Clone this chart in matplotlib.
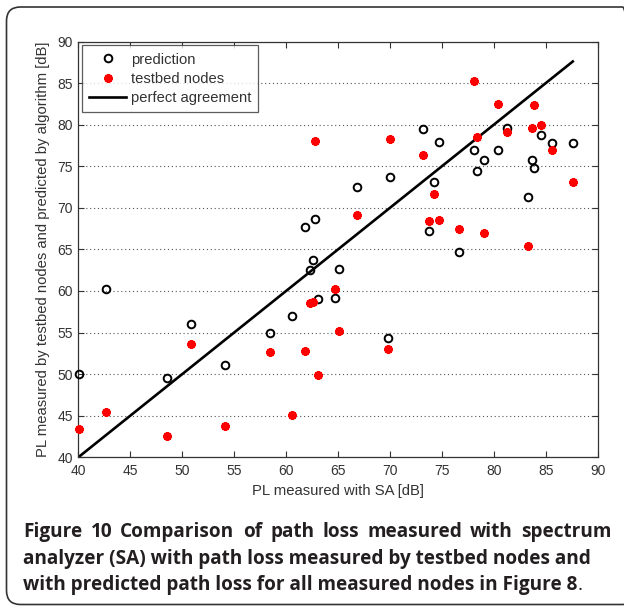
import numpy as np
import matplotlib
matplotlib.use("Agg")
import matplotlib.pyplot as plt
from matplotlib.patches import FancyBboxPatch
from matplotlib.transforms import IdentityTransform

# PL measured with spectrum analyzer [dB], one entry per node
pl_sa = [40.1, 42.7, 48.5, 50.8, 54.1, 58.5, 60.6, 61.8, 62.35, 62.6, 62.8,
         63.1, 64.7, 65.1, 66.8, 69.8, 70.0, 73.2, 73.8, 74.2, 74.7, 76.6,
         78.05, 78.4, 79.1, 80.4, 81.3, 83.3, 83.65, 83.85, 84.55, 85.6, 87.6]
# predicted by algorithm [dB]
pl_pred = [50.05, 60.2, 49.5, 56.05, 51.05, 54.9, 56.95, 67.7, 62.5, 63.75, 68.7,
           59.0, 59.2, 62.6, 72.5, 54.35, 73.7, 79.5, 67.2, 73.05, 77.9, 64.7,
           77.0, 74.4, 75.75, 76.9, 79.65, 71.25, 75.75, 74.75, 78.7, 77.8, 77.8]
# measured by testbed nodes [dB]
pl_testbed = [43.4, 45.5, 42.5, 53.65, 43.75, 52.7, 45.05, 52.8, 58.5, 58.65, 78.05,
              49.95, 60.2, 55.2, 69.1, 53.0, 78.3, 76.35, 68.4, 71.7, 68.5, 67.4,
              85.25, 78.5, 67.0, 82.5, 79.1, 65.4, 79.6, 82.4, 80.0, 76.9, 73.1]

xticks = [40, 45, 50, 55, 60, 65, 70, 75, 80, 85, 90]
yticks = [40, 45, 50, 55, 60, 65, 70, 75, 80, 85, 90]

caption = ["Figure 10 Comparison of path loss measured with spectrum",
           "analyzer (SA) with path loss measured by testbed nodes and",
           "with predicted path loss for all measured nodes in Figure 8"]

plt.rcParams['font.family'] = ['Liberation Sans', 'DejaVu Sans']

fig = plt.figure(figsize=(6.24, 6.06), dpi=100)
ax = fig.add_axes([0.1255, 0.2454, 0.8324, 0.6861])

ax.plot(pl_sa, pl_pred, linestyle='none', marker='o', ms=5.5, mfc='none',
        mec='black', mew=1.4, label='prediction', zorder=3, clip_on=False)
ax.plot(pl_sa, pl_testbed, linestyle='none', marker=(8, 2, 0), ms=6.3,
        mec='red', mfc='red', mew=1.7, label='testbed nodes', zorder=3, clip_on=False)
lo, hi = min(pl_sa), max(pl_sa)
ax.plot([lo, hi], [lo, hi], color='black', lw=1.9, label='perfect agreement', zorder=2)

ax.set_xlim(40, 90)
ax.set_ylim(40, 90)
ax.set_xticks(xticks)
ax.set_yticks(yticks)
ax.tick_params(direction='in', length=4, width=0.8, labelsize=10,
               labelcolor='#333333', color='#333333',
               top=True, right=True, pad=4)
ax.tick_params(axis='x', pad=5)
ax.yaxis.grid(True, linestyle=(0, (1, 2.5)), color='#555555', lw=0.8)
for sp in ax.spines.values():
    sp.set_color('#333333')
    sp.set_linewidth(0.9)

ax.set_xlabel('PL measured with SA [dB]', fontsize=10.7, color='#333333', labelpad=4)
ax.set_ylabel('PL measured by testbed nodes and predicted by algorithm [dB]',
              fontsize=10.7, color='#333333', labelpad=5)

leg = ax.legend(loc='upper left', fontsize=10.6, frameon=True, fancybox=False,
                edgecolor='#333333', borderpad=0.5, labelspacing=0.35,
                handlelength=2.5, handletextpad=0.3, borderaxespad=0.25)
leg.get_frame().set_linewidth(0.9)
leg.set_zorder(5)
for t in leg.get_texts():
    t.set_color('#333333')

# caption, first line spread to the full width like the source
cap_kw = dict(fontsize=13.7, fontweight='bold', family=['Open Sans', 'DejaVu Sans'],
              color='#231f20', va='center', ha='left')
ys = [532, 559, 585]
renderer = fig.canvas.get_renderer()
words = caption[0].split()
wtexts = [fig.text(0, 1 - ys[0] / 606, w, **cap_kw) for w in words]
widths = [t.get_window_extent(renderer).width for t in wtexts]
gap = (611.5 - 23 - sum(widths)) / (len(words) - 1)
xpos = 23
for t, w in zip(wtexts, widths):
    t.set_x(xpos / 624)
    xpos += w + gap
fig.text(23 / 624, 1 - ys[1] / 606, caption[1], **cap_kw)
last = fig.text(23 / 624, 1 - ys[2] / 606, caption[2], **cap_kw)
lw_px = last.get_window_extent(renderer).width
fig.text((23 + lw_px) / 624, 1 - ys[2] / 606, '.', fontsize=13.7,
         family=['Open Sans', 'DejaVu Sans'], color='#231f20', va='center', ha='left')

# outer rounded frame
frame = FancyBboxPatch((6.5, 1.5), 630, 597.5, boxstyle='round,pad=0,rounding_size=14',
                       transform=IdentityTransform(), fill=False,
                       edgecolor='#333333', lw=1.2)
fig.patches.append(frame)

fig.savefig('out.png', dpi=100)
